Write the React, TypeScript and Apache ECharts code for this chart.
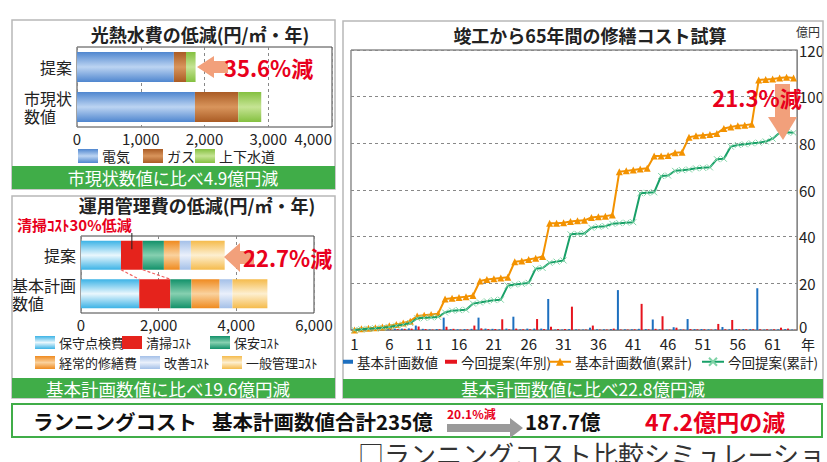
import React, { useEffect, useRef } from 'react';
import * as echarts from 'echarts';

const FONT = "'Noto Sans CJK JP', 'Noto Sans', sans-serif";
const NARROW = "'Liberation Sans Narrow', 'Noto Sans CJK JP', sans-serif";

// ---------- Panel 1: 光熱水費 ----------
const utilityCategories = ['市現状数値', '提案'];
const utilityNames = ['電気', 'ガス', '上下水道'];
const electricity = [1850, 1520];
const gas = [680, 190];
const water = [360, 150];

// ---------- Panel 2: 運用管理費 ----------
const opsCategories = ['基本計画数値', '提案'];
const opsNames = ['保守点検費', '清掃ｺｽﾄ', '保安ｺｽﾄ', '経常的修繕費', '改善ｺｽﾄ', '一般管理ｺｽﾄ'];
const maintenance = [1500, 1030];
const cleaning = [800, 560];
const security = [545, 545];
const repairs = [725, 410];
const improvement = [330, 285];
const management = [900, 870];

// ---------- Panel 3: 修繕コスト ----------
const years = ['1','2','3','4','5','6','7','8','9','10','11','12','13','14','15','16','17','18','19','20','21','22','23','24','25','26','27','28','29','30','31','32','33','34','35','36','37','38','39','40','41','42','43','44','45','46','47','48','49','50','51','52','53','54','55','56','57','58','59','60','61','62','63','64'];
const planAnnual = [0.2,0.3,0.2,0.2,0.3,0.5,0.6,0.6,0.7,1.9, 0.5,0.3,0.4,5.3,0.4,0.3,0.4,0.5,5.3,0.6, 0.5,0.3,0.6,5.7,0.3,0.6,0.6,0.6,13.3,0.2, 0.2,0.4,0.3,0.2,1.0,0.3,0.3,0.4,17.1,0.3, 0.3,0.5,0.4,4.5,0.3,0.2,1.2,0.3,4.7,0.4, 0.4,0.3,0.3,1.3,0.3,0.4,0.4,0.4,17.9,0.2, 0.2,0.3,0.4,0.2];
const proposalAnnual = [0.1,0.2,0.2,0.2,0.3,0.4,0.4,0.5,0.6,1.5, 0.4,0.2,0.3,1.4,0.5,0.2,0.3,1.9,0.7,0.4, 0.4,4.6,0.3,0.6,0.3,0.3,4.7,0.4,1.4,0.4, 0.4,10.0,0.2,0.2,1.9,0.2,0.2,0.6,0.2,0.2, 0.3,11.2,0.3,0.5,5.9,0.2,1.0,0.2,0.4,0.3, 0.3,0.2,2.6,0.3,4.3,0.3,0.3,0.3,0.3,0.3, 0.3,1.0,0.6,0.1];
const planCumulative = [0,0.5,0.8,1.0,1.3,1.8,2.4,3.0,3.8,6.0, 6.3,6.6,7.0,13.3,13.6,13.9,14.3,14.8,21.0,21.6, 22.0,22.3,22.6,29.3,29.6,30.2,30.8,31.5,45.7,45.8, 46.0,46.5,46.8,47.0,48.2,48.5,48.8,49.3,67.8,68.2, 68.6,69.0,69.3,74.6,74.6,74.8,76.0,76.2,82.6,83.2, 83.5,83.8,84.2,86.4,87.0,87.5,87.8,88.2,107.1,107.4, 107.6,108.0,108.3,108.0];
const proposalCumulative = [0,0.3,0.5,0.7,1.0,1.3,1.8,2.3,3.0,5.0, 5.2,5.4,5.6,7.5,8.3,8.5,8.7,11.3,11.8,12.3, 12.8,13.0,19.0,19.5,19.8,20.2,26.3,26.6,28.8,29.3, 29.8,41.0,41.2,41.4,43.8,44.3,44.5,45.5,45.8,46.0, 46.2,58.6,58.8,59.0,66.0,66.2,68.2,68.5,68.8,69.3, 69.5,69.7,73.2,73.4,78.6,79.3,79.6,80.0,80.3,80.8, 82.0,84.5,84.8,84.5];
const panel3Names = ['基本計画数値', '今回提案(年別)', '基本計画数値(累計)', '今回提案(累計)'];

const RED = '#e8001c';
const GREEN_BANNER = '#40ad48';
const SALMON = '#f2a07b';

const grad = (dark: string, light: string) =>
  new echarts.graphic.LinearGradient(0, 0, 0, 1, [
    { offset: 0, color: dark },
    { offset: 0.5, color: light },
    { offset: 1, color: dark },
  ]);

const txt = (text: string, x: number, y: number, size: number, fill: string, bold = false, align = 'left', va = 'middle') => ({
  type: 'text',
  x,
  y,
  z: 50,
  style: {
    text,
    fontSize: size,
    fill,
    fontFamily: FONT,
    fontWeight: bold ? 'bold' : 'normal',
    align,
    verticalAlign: va,
    textAlign: align,
    textVerticalAlign: va,
  },
});

const legendAt = (name: string, left: number, top: number, w: number, h: number, fontSize: number, icon?: string) => ({
  show: true,
  selectedMode: false,
  left,
  top,
  padding: 0,
  itemGap: 0,
  itemWidth: w,
  itemHeight: h,
  data: [icon ? { name, icon } : { name }],
  textStyle: { fontSize, color: '#222', fontFamily: FONT, padding: [0, 0, 0, -1] },
});

export default function App() {
  const ref = useRef<HTMLDivElement>(null);
  useEffect(() => {
    const chart = echarts.init(ref.current!, null, { renderer: 'svg' });

    const utilColors = [grad('#4f86cf', '#bcd4f2'), grad('#a95b24', '#d9955c'), grad('#84c040', '#c6e494')];
    const opsColors = [
      grad('#3cb3e6', '#eaf7fd'),
      '#e5231c',
      grad('#12916a', '#86d0b0'),
      grad('#ef8a1f', '#fad29e'),
      grad('#a4c0e8', '#eaf0fb'),
      grad('#f5bb4c', '#fdefd0'),
    ];
    const utilData = [electricity, gas, water];
    const opsData = [maintenance, cleaning, security, repairs, improvement, management];

    const valueAxis = (gridIndex: number, max: number, interval: number, alignMax?: string) => ({
      gridIndex,
      type: 'value',
      min: 0,
      max,
      interval,
      axisLine: { show: false },
      axisTick: { show: false },
      splitLine: { show: true, lineStyle: { type: [3, 3], color: '#888', width: 1 } },
      axisLabel: { fontSize: 15, color: '#222', margin: 4, fontFamily: FONT, alignMaxLabel: alignMax },
    });

    const catAxis = (gridIndex: number, data: string[], fmt: (v: string) => string) => ({
      gridIndex,
      type: 'category',
      data,
      axisLine: { show: false },
      axisTick: { show: false },
      axisLabel: { fontSize: 16, color: '#222', margin: 5, lineHeight: 18, fontFamily: FONT, formatter: fmt },
    });

    const option: any = {
      animation: false,
      textStyle: { fontFamily: FONT },
      grid: [
        { left: 77, top: 47, width: 255, height: 80, show: true, borderColor: '#444', borderWidth: 1 },
        { left: 81, top: 236, width: 233, height: 77, show: true, borderColor: '#444', borderWidth: 1 },
        { left: 351, top: 50, width: 454, height: 280, show: true, borderColor: '#555', borderWidth: 1 },
      ],
      xAxis: [
        valueAxis(0, 4000, 1000, 'right'),
        valueAxis(1, 6000, 2000),
        {
          gridIndex: 2,
          type: 'category',
          data: years,
          boundaryGap: true,
          axisLine: { show: true, lineStyle: { color: '#888' } },
          axisTick: { show: false },
          axisLabel: { interval: 4, fontSize: 15, color: '#222', margin: 6, fontFamily: NARROW },
        },
      ],
      yAxis: [
        catAxis(0, utilityCategories, (v: string) => (v === '市現状数値' ? '市現状\n数値　' : v)),
        catAxis(1, opsCategories, (v: string) => (v === '基本計画数値' ? '基本計画\n数値　　' : v)),
        {
          gridIndex: 2,
          type: 'value',
          position: 'right',
          min: 0,
          max: 120,
          interval: 20,
          axisLine: { show: true, lineStyle: { color: '#888' } },
          axisTick: { show: false },
          splitLine: { show: true, lineStyle: { type: [3, 3], color: '#888' } },
          axisLabel: {
            fontSize: 15,
            color: '#222',
            margin: 2,
            fontFamily: NARROW,
            formatter: (v: number) => (v === 0 ? '{z|0}' : String(v)),
            rich: { z: { fontSize: 15, fontFamily: NARROW, color: '#222', padding: [0, 0, 8, 0] } },
          },
        },
      ],
      legend: [
        legendAt(utilityNames[0], 78, 149, 20, 14, 14, 'rect'),
        legendAt(utilityNames[1], 143, 149, 20, 14, 14, 'rect'),
        legendAt(utilityNames[2], 195, 149, 20, 14, 14, 'rect'),
        legendAt(opsNames[0], 35, 336, 20, 13, 13, 'rect'),
        legendAt(opsNames[1], 122, 336, 20, 13, 13, 'rect'),
        legendAt(opsNames[2], 210, 336, 20, 13, 13, 'rect'),
        legendAt(opsNames[3], 35, 356, 20, 13, 13, 'rect'),
        legendAt(opsNames[4], 140, 356, 20, 13, 13, 'rect'),
        legendAt(opsNames[5], 222, 356, 20, 13, 13, 'rect'),
        legendAt(panel3Names[0], 343, 355, 10, 4, 13.5, 'rect'),
        legendAt(panel3Names[1], 445, 355, 12, 4, 13.5, 'rect'),
        legendAt(panel3Names[2], 548, 355, 22, 10, 13.5),
        legendAt(panel3Names[3], 701, 355, 22, 10, 13.5),
      ],
      series: [
        ...utilityNames.map((n, i) => ({
          type: 'bar',
          name: n,
          stack: 'util',
          xAxisIndex: 0,
          yAxisIndex: 0,
          barWidth: 30,
          data: utilData[i],
          itemStyle: { color: utilColors[i] },
        })),
        ...opsNames.map((n, i) => ({
          type: 'bar',
          name: n,
          stack: 'ops',
          xAxisIndex: 1,
          yAxisIndex: 1,
          barWidth: 29,
          data: opsData[i],
          itemStyle: { color: opsColors[i] },
        })),
        {
          type: 'bar',
          name: panel3Names[0],
          xAxisIndex: 2,
          yAxisIndex: 2,
          barWidth: 2,
          barGap: '40%',
          data: planAnnual,
          itemStyle: { color: '#1d6fbf' },
        },
        {
          type: 'bar',
          name: panel3Names[1],
          xAxisIndex: 2,
          yAxisIndex: 2,
          barWidth: 2,
          barGap: '40%',
          data: proposalAnnual,
          itemStyle: { color: '#e6141e' },
        },
        {
          type: 'line',
          name: panel3Names[2],
          xAxisIndex: 2,
          yAxisIndex: 2,
          data: planCumulative,
          showAllSymbol: true,
          symbol: 'triangle',
          symbolSize: 7,
          lineStyle: { color: '#f39200', width: 2 },
          itemStyle: { color: '#f39200' },
          z: 5,
        },
        {
          type: 'line',
          name: panel3Names[3],
          xAxisIndex: 2,
          yAxisIndex: 2,
          data: proposalCumulative,
          showAllSymbol: true,
          symbol: 'path://M0,0L10,10M10,0L0,10',
          symbolSize: 6,
          lineStyle: { color: '#18a068', width: 2 },
          itemStyle: { color: '#18a068', borderColor: '#7fd3a6', borderWidth: 1 },
          z: 6,
        },
      ],
    };

    chart.setOption(option);

    // connectors between the cleaning segments (panel 2)
    const px = (v: number, cat: string) => chart.convertToPixel({ xAxisIndex: 1, yAxisIndex: 1 } as any, [v, cat]) as number[];
    const pStart = px(maintenance[1], opsCategories[1]);
    const pEnd = px(maintenance[1] + cleaning[1], opsCategories[1]);
    const bStart = px(maintenance[0], opsCategories[0]);
    const bEnd = px(maintenance[0] + cleaning[0], opsCategories[0]);
    const pMid = px(maintenance[1] + cleaning[1] / 2, opsCategories[1]);
    const half = 14.5;

    const dashed = (x1: number, y1: number, x2: number, y2: number) => ({
      type: 'line',
      z: 40,
      shape: { x1, y1, x2, y2 },
      style: { stroke: '#f06060', lineWidth: 1.2, lineDash: [3, 2] },
    });

    const graphics: any[] = [
      // panel boxes
      { type: 'rect', z: 1, shape: { x: 12, y: 20, width: 323, height: 169 }, style: { fill: 'none', stroke: '#b8b8b8', lineWidth: 1.5 } },
      { type: 'rect', z: 1, shape: { x: 12, y: 196, width: 323, height: 202 }, style: { fill: 'none', stroke: '#b8b8b8', lineWidth: 1.5 } },
      { type: 'rect', z: 1, shape: { x: 343, y: 21, width: 480, height: 377 }, style: { fill: 'none', stroke: '#b8b8b8', lineWidth: 1.5 } },
      // banners
      { type: 'rect', z: 2, shape: { x: 12, y: 166, width: 323, height: 23 }, style: { fill: GREEN_BANNER } },
      { type: 'rect', z: 2, shape: { x: 12, y: 378, width: 323, height: 20 }, style: { fill: GREEN_BANNER } },
      { type: 'rect', z: 2, shape: { x: 343, y: 379, width: 480, height: 19 }, style: { fill: GREEN_BANNER } },
      txt('市現状数値に比べ4.9億円減', 173, 177.5, 17, '#fff', false, 'center'),
      txt('基本計画数値に比べ19.6億円減', 168, 388, 17.5, '#fff', false, 'center'),
      txt('基本計画数値に比べ22.8億円減', 583, 388.5, 17.5, '#fff', false, 'center'),
      // titles
      txt('光熱水費の低減(円/㎡・年)', 200, 34, 18, '#222', true, 'center'),
      txt('運用管理費の低減(円/㎡・年)', 197, 205, 18, '#222', true, 'center'),
      txt('竣工から65年間の修繕コスト試算', 590, 35, 18, '#222', true, 'center'),
      txt('億円', 808, 31, 12, '#333', false, 'center'),
      txt('年', 808, 344, 14, '#222', false, 'center'),
      // arrows
      { type: 'polygon', z: 20, shape: { points: [[197, 67], [214, 56], [214, 61], [228, 61], [228, 73], [214, 73], [214, 78]] }, style: { fill: SALMON } },
      { type: 'polygon', z: 20, shape: { points: [[224, 257], [240, 243], [240, 251], [254, 251], [254, 264], [240, 264], [240, 272]] }, style: { fill: SALMON } },
      { type: 'polygon', z: 20, shape: { points: [[775, 84], [790, 84], [790, 117], [797, 117], [783, 140], [768, 117], [775, 117]] }, style: { fill: SALMON } },
      // red labels
      txt('35.6%減', 224, 67, 22, RED, true),
      txt('22.7%減', 243, 257, 22, RED, true),
      txt('21.3%減', 757, 97, 22, RED, true, 'center'),
      txt('清掃ｺｽﾄ30%低減', 17, 224.5, 15, RED, true),
      // leader + connectors
      { type: 'line', z: 40, shape: { x1: pMid[0], y1: 233, x2: pMid[0], y2: pMid[1] - 6 }, style: { stroke: '#222', lineWidth: 1 } },
      dashed(pStart[0], pStart[1] + half, bStart[0], bStart[1] - half),
      dashed(pEnd[0], pEnd[1] + half, bEnd[0], bEnd[1] - half),
      // bottom summary box
      { type: 'rect', z: 2, shape: { x: 12, y: 404, width: 810, height: 33 }, style: { fill: 'none', stroke: GREEN_BANNER, lineWidth: 2 } },
      txt('ランニングコスト', 33, 421, 20.5, '#111', true),
      txt('基本計画数値合計235億', 212, 421, 20.5, '#111', true),
      txt('20.1%減', 447, 413, 12, RED, true),
      { type: 'polygon', z: 20, shape: { points: [[447, 424], [510, 424], [510, 418], [523, 428], [510, 438], [510, 432], [447, 432]] }, style: { fill: '#9a9a9a' } },
      txt('187.7億', 525, 421, 20.5, '#111', true),
      txt('47.2億円の減', 645, 421, 23, RED, true),
      txt('□ランニングコスト比較シミュレーション', 358, 440, 26, '#333', false, 'left', 'top'),
    ];

    chart.setOption({ graphic: { elements: graphics } });

    return () => chart.dispose();
  }, []);

  return (
    <div
      ref={ref}
      style={{ position: 'fixed', left: 0, top: 0, width: 827, height: 462, background: '#fff' }}
    />
  );
}
